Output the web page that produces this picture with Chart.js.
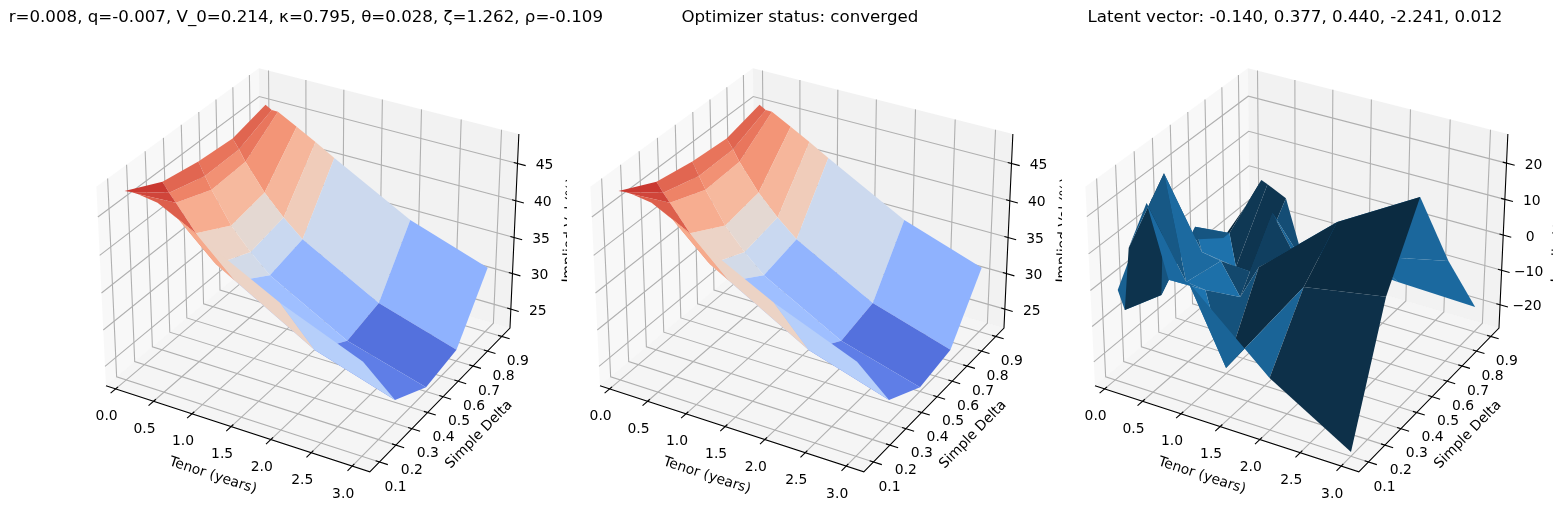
<!DOCTYPE html>
<html>
<head>
<meta charset="utf-8">
<style>
  html, body { margin: 0; width: 1553px; height: 513px; overflow: hidden; background: #fff; }
  canvas { position: absolute; top: 0; }
</style>
<script src="https://cdn.jsdelivr.net/npm/chart.js@4"></script>
</head>
<body>
<canvas id="panel1" width="620" height="513" style="left:0"></canvas>
<canvas id="panel2" width="620" height="513" style="left:494px"></canvas>
<canvas id="panel3" width="620" height="513" style="left:989px"></canvas>
<script>
// grid of the surfaces
const tenors = [1/12, 1/6, 1/4, 0.5, 0.75, 1, 2, 3];
const deltas = [0.1, 0.3, 0.5, 0.7, 0.9];

// implied vol (%), one row per delta, one value per tenor
const volDelta10 = [47.9, 48.0, 48.0, 47.6, 46.3, 44.8, 39.3, 34.9];
const volDelta30 = [45.5, 44.3, 43.2, 39.9, 36.5, 35.0, 28.9, 25.5];
const volDelta50 = [44.6, 42.9, 41.3, 37.2, 34.3, 31.9, 26.0, 22.9];
const volDelta70 = [44.2, 43.0, 41.5, 38.0, 35.3, 33.0, 27.2, 23.9];
const volDelta90 = [45.4, 44.9, 44.9, 43.5, 42.1, 40.6, 34.9, 31.3];

// third panel
const latentDelta10 = [-0.9, -5.9, 11.7, 25.2, 6.2, 7.2, -12.3, -25.6];
const latentDelta30 = [16.5, -9.9, 24.2, -4.1, -4.7, -25.2, 4.2, 8.0];
const latentDelta50 = [-2.8, 1.4, -5.2, -6.2, -14.9, -4.8, 13.9, 26.6];
const latentDelta70 = [-10.1, -8.1, -17.5, -17.7, 1.2, -7.8, -3.3, 1.6];
const latentDelta90 = [-4.3, -0.3, -1.0, -3.6, -21.4, -17.2, -18.8, -19.6];

// axes
const tenorLim = [-0.1293, 3.2127];
const deltaLim = [0.0417, 0.9583];
const volLim = [22.31, 48.89];
const latentLim = [-26.8, 27.9];
const tenorTicks = [0, 0.5, 1, 1.5, 2, 2.5, 3];
const tenorLabels = ['0.0', '0.5', '1.0', '1.5', '2.0', '2.5', '3.0'];
const deltaTicks = [0.1, 0.2, 0.3, 0.4, 0.5, 0.6, 0.7, 0.8, 0.9];
const deltaLabels = ['0.1', '0.2', '0.3', '0.4', '0.5', '0.6', '0.7', '0.8', '0.9'];
const volTicks = [25, 30, 35, 40, 45];
const volLabels = ['25', '30', '35', '40', '45'];
const latentTicks = [-20, -10, 0, 10, 20];
const latentLabels = ['\u221220', '\u221210', '0', '10', '20'];

const title1 = 'r=0.008, q=-0.007, V_0=0.214, \u03ba=0.795, \u03b8=0.028, \u03b6=1.262, \u03c1=-0.109';
const title2 = 'Optimizer status: converged';
const title3 = 'Latent vector: -0.140, 0.377, 0.440, -2.241, 0.012';

const volRows = [volDelta10, volDelta30, volDelta50, volDelta70, volDelta90];
const latentRows = [latentDelta10, latentDelta30, latentDelta50, latentDelta70, latentDelta90];

// same camera as mplot3d: elev 30, azim -60, dist 10, box 4:4:3
const boxSize = [1.1905, 1.1905, 0.8929];
const camU = [0.8660254, 0.5, 0];
const camV = [-0.25, 0.4330127, 0.8660254];
const camW = [0.4330127, -0.75, 0.5];
const dot = (a, b) => a[0] * b[0] + a[1] * b[1] + a[2] * b[2];

function project(fx, fy, fz) {
  const p = [(fx - 0.5) * boxSize[0], (fy - 0.5) * boxSize[1], (fz - 0.5) * boxSize[2]];
  const k = 10 - dot(p, camW);
  return { x: dot(p, camU) / k, y: dot(p, camV) / k, depth: k };
}

const frac = (v, lim) => (v - lim[0]) / (lim[1] - lim[0]);

// coolwarm
const coolwarm = [[59,76,192],[77,104,215],[98,130,234],[119,154,247],[141,176,254],[163,194,255],[184,208,249],[204,217,238],[221,221,221],
  [236,211,197],[244,197,173],[247,177,148],[244,154,123],[236,124,97],[219,91,73],[202,57,49],[180,4,38]];
function coolwarmColor(t) {
  const s = Math.min(Math.max(t, 0), 1) * (coolwarm.length - 1);
  const i = Math.min(Math.floor(s), coolwarm.length - 2);
  const c = coolwarm[i].map((v, n) => Math.round(v + (coolwarm[i + 1][n] - v) * (s - i)));
  return 'rgb(' + c.join(',') + ')';
}

// flat blue with the default light of plot_surface
function shadedBlue(a, b, c) {
  const v1 = [a[0] - b[0], a[1] - b[1], a[2] - b[2]];
  const v2 = [b[0] - c[0], b[1] - c[1], b[2] - c[2]];
  const n = [v1[1] * v2[2] - v1[2] * v2[1], v1[2] * v2[0] - v1[0] * v2[2], v1[0] * v2[1] - v1[1] * v2[0]];
  const len = Math.sqrt(dot(n, n)) || 1;
  const shade = dot(n, [-0.6667, -0.6667, 0.3333]) / len;
  const f = 0.3 + 0.7 * (shade + 1) / 2;
  return 'rgb(' + [31, 119, 180].map(v => Math.round(v * f)).join(',') + ')';
}

function polyline(points, color, width) {
  return { data: points, showLine: true, borderColor: color, borderWidth: width, fill: false, pointRadius: 0 };
}
function polygon(points, color) {
  return { data: points, showLine: true, borderWidth: 0, backgroundColor: color, fill: 'shape', pointRadius: 0 };
}

function buildDatasets(rows, zLim, zTicks, useCmap) {
  const out = [];
  // panes
  out.push(polygon([project(0,0,0), project(0,1,0), project(0,1,1), project(0,0,1)], 'rgba(242,242,242,0.5)'));
  out.push(polygon([project(0,1,0), project(1,1,0), project(1,1,1), project(0,1,1)], 'rgba(230,230,230,0.5)'));
  out.push(polygon([project(0,0,0), project(1,0,0), project(1,1,0), project(0,1,0)], 'rgba(236,236,236,0.5)'));
  // grid
  const gridColor = '#b0b0b0';
  tenorTicks.forEach(t => {
    const f = frac(t, tenorLim);
    out.push(polyline([project(f,0,0), project(f,1,0), project(f,1,1)], gridColor, 1.1));
  });
  deltaTicks.forEach(d => {
    const f = frac(d, deltaLim);
    out.push(polyline([project(1,f,0), project(0,f,0), project(0,f,1)], gridColor, 1.1));
  });
  zTicks.forEach(z => {
    const f = frac(z, zLim);
    out.push(polyline([project(0,0,f), project(0,1,f), project(1,1,f)], gridColor, 1.1));
  });
  // axis lines and tick marks
  out.push(polyline([project(0,0,0), project(1,0,0), project(1,1,0), project(1,1,1)], '#000', 1.1));
  tenorTicks.forEach(t => {
    const f = frac(t, tenorLim);
    out.push(polyline([project(f,-0.03,0), project(f,0.014,0)], '#000', 1.1));
  });
  deltaTicks.forEach(d => {
    const f = frac(d, deltaLim);
    out.push(polyline([project(1.03,f,0), project(0.986,f,0)], '#000', 1.1));
  });
  zTicks.forEach(z => {
    const f = frac(z, zLim);
    out.push(polyline([project(1.03,1,f), project(0.986,1,f)], '#000', 1.1));
  });

  // surface, far faces first like zsort='average'
  const all = rows.flat();
  const vmin = Math.min(...all), vmax = Math.max(...all);
  const faces = [];
  for (let i = 0; i < tenors.length - 1; i++) {
    for (let j = 0; j < deltas.length - 1; j++) {
      const corners = [[i, j], [i, j + 1], [i + 1, j + 1], [i + 1, j]];
      const xyz = corners.map(c => [tenors[c[0]], deltas[c[1]], rows[c[1]][c[0]]]);
      const pts = xyz.map(p => project(frac(p[0], tenorLim), frac(p[1], deltaLim), frac(p[2], zLim)));
      const avgZ = xyz.reduce((s, p) => s + p[2], 0) / 4;
      const color = useCmap ? coolwarmColor((avgZ - vmin) / (vmax - vmin)) : shadedBlue(xyz[0], xyz[1], xyz[2]);
      faces.push({ pts, color, depth: pts.reduce((s, p) => s + p.depth, 0) / 4 });
    }
  }
  faces.sort((a, b) => b.depth - a.depth);
  faces.forEach(f => out.push(polygon(f.pts, f.color)));
  // chart.js paints the last dataset first
  return out.reverse();
}

// texts placed on the projected axes, title drawn here too because
// the title plugin squeezes long text into the padded width
const labelsPlugin = {
  id: 'axisLabels',
  beforeDraw(chart) {
    const a = chart.chartArea;
    chart.ctx.save();
    chart.ctx.fillStyle = '#fff';
    chart.ctx.fillRect(a.left + 2.5, a.top, a.right - a.left - 2.5, a.bottom - a.top);
    chart.ctx.restore();
  },
  afterDraw(chart, args, opts) {
    const ctx = chart.ctx;
    const sx = chart.scales.x, sy = chart.scales.y;
    const px = p => [sx.getPixelForValue(p.x), sy.getPixelForValue(p.y)];
    ctx.save();
    ctx.fillStyle = '#000';
    ctx.textAlign = 'center';
    ctx.textBaseline = 'middle';
    ctx.font = '16.67px "DejaVu Sans"';
    ctx.fillText(opts.title, (chart.chartArea.left + chart.chartArea.right) / 2 + 0.5, 18);
    ctx.font = '13.9px "DejaVu Sans"';
    const put = (p, dx, dy, text, angle) => {
      const q = px(p);
      ctx.save();
      ctx.translate(q[0] + dx, q[1] + dy);
      if (angle) ctx.rotate(angle);
      ctx.fillText(text, 0, 0);
      ctx.restore();
    };
    const angleOf = (a, b) => { const p = px(a), q = px(b); return Math.atan2(q[1] - p[1], q[0] - p[0]); };
    tenorTicks.forEach((t, i) => put(project(frac(t, tenorLim), 0, 0), -9, 28, tenorLabels[i]));
    deltaTicks.forEach((d, i) => put(project(1, frac(d, deltaLim), 0), 16, 25, deltaLabels[i]));
    opts.zTicks.forEach((z, i) => put(project(1, 1, frac(z, opts.zLim)), 27, 2, opts.zLabels[i]));
    put(project(0.5, 0, 0), -21.5, 48, 'Tenor (years)', angleOf(project(0,0,0), project(1,0,0)));
    put(project(1, 0.5, 0), 36, 38, 'Simple Delta', angleOf(project(1,0,0), project(1,1,0)));
    put(project(1, 1, 0.5), 56, -3, 'Implied Vol (%)', angleOf(project(1,1,0), project(1,1,1)));
    ctx.restore();
  }
};

function drawPanel(id, title, rows, zLim, zTicks, zLabels, useCmap) {
  new Chart(document.getElementById(id).getContext('2d'), {
    type: 'scatter',
    data: { datasets: buildDatasets(rows, zLim, zTicks, useCmap) },
    plugins: [labelsPlugin],
    options: {
      responsive: false,
      animation: false,
      events: [],
      layout: { padding: { left: 70.5, right: 79.8, top: 31.8, bottom: 11.5 } },
      scales: {
        x: { type: 'linear', min: -0.095, max: 0.09, display: false },
        y: { type: 'linear', min: -0.095, max: 0.09, display: false }
      },
      plugins: {
        legend: { display: false },
        tooltip: { enabled: false },
        axisLabels: { title, zTicks, zLabels, zLim }
      }
    }
  });
}

drawPanel('panel1', title1, volRows, volLim, volTicks, volLabels, true);
drawPanel('panel2', title2, volRows, volLim, volTicks, volLabels, true);
drawPanel('panel3', title3, latentRows, latentLim, latentTicks, latentLabels, false);
</script>
</body>
</html>
